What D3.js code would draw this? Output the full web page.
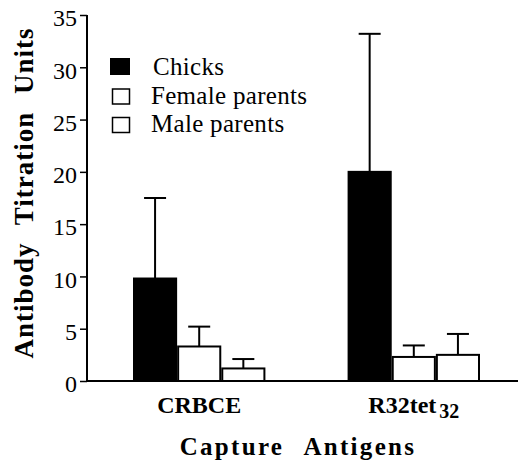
<!DOCTYPE html>
<html>
<head>
<meta charset="utf-8">
<script src="https://cdn.jsdelivr.net/npm/d3@7"></script>
<style>
  body { margin: 0; background: #fff; }
  svg { display: block; }
</style>
</head>
<body>
<svg id="chart" width="518" height="472"></svg>
<script>
const categories = ['CRBCE', 'R32tet32'];
const seriesNames = ['Chicks', 'Female parents', 'Male parents'];
const seriesFill = ['#000', '#fff', '#fff'];
const chicks = [9.8, 20.0];
const femaleParents = [3.3, 2.3];
const maleParents = [1.2, 2.5];
const chicksErr = [17.5, 33.2];
const femaleErr = [5.2, 3.4];
const maleErr = [2.1, 4.5];
const yTicks = [0, 5, 10, 15, 20, 25, 30, 35];

const svg = d3.select('#chart');
const serif = '"Liberation Serif", "Times New Roman", serif';

const y = d3.scaleLinear().domain([0, 35]).range([381, 15]);
const x0 = d3.scaleBand().domain(categories).range([133, 480]).paddingInner(0.383);
const x1 = d3.scaleBand().domain(seriesNames).range([0, x0.bandwidth()]);

// rows of bars
const values = [chicks, femaleParents, maleParents];
const errs = [chicksErr, femaleErr, maleErr];
const rows = [];
categories.forEach((cat, ci) => {
  seriesNames.forEach((s, si) => {
    rows.push({ cat, s, si, v: values[si][ci], e: errs[si][ci] });
  });
});

const bars = svg.append('g');
rows.forEach((d) => {
  const bx = x0(d.cat) + x1(d.s);
  const cx = bx + x1.bandwidth() / 2;
  // error bar
  bars.append('line')
    .attr('x1', cx).attr('x2', cx)
    .attr('y1', y(d.v)).attr('y2', y(d.e))
    .attr('stroke', '#000').attr('stroke-width', 2);
  bars.append('line')
    .attr('x1', cx - 11).attr('x2', cx + 11)
    .attr('y1', y(d.e)).attr('y2', y(d.e))
    .attr('stroke', '#000').attr('stroke-width', 2);
  bars.append('rect')
    .attr('x', bx + 1)
    .attr('y', y(d.v))
    .attr('width', x1.bandwidth() - 2)
    .attr('height', y(0) - y(d.v))
    .attr('fill', seriesFill[d.si])
    .attr('stroke', '#000')
    .attr('stroke-width', 2);
});

// y axis
const yAxis = d3.axisLeft(y).tickValues(yTicks).tickSize(7).tickPadding(3);
const gy = svg.append('g')
  .attr('transform', 'translate(87,0)')
  .call(yAxis)
  .attr('font-family', serif)
  .attr('font-size', 24);
gy.select('.domain').attr('d', `M0,${y(35)}V${y(0)}`).attr('stroke-width', 2);
gy.selectAll('.tick line').attr('stroke-width', 1.5);
gy.selectAll('.tick text').attr('fill', '#000').attr('dy', '0.45em');

// baseline
svg.append('line')
  .attr('x1', 87).attr('x2', 518)
  .attr('y1', y(0)).attr('y2', y(0))
  .attr('stroke', '#000').attr('stroke-width', 2);

// x category labels
categories.forEach((cat) => {
  const t = svg.append('text')
    .attr('x', x0(cat) + x0.bandwidth() / 2)
    .attr('y', 413)
    .attr('text-anchor', 'middle')
    .attr('font-family', serif)
    .attr('font-weight', 'bold')
    .attr('font-size', 24);
  if (cat === 'R32tet32') {
    t.append('tspan').text('R32tet');
    t.append('tspan').attr('dx', 3).attr('dy', 5).attr('font-size', 20).text('32');
  } else {
    t.text(cat);
  }
});

// axis titles
svg.append('text')
  .attr('x', 298).attr('y', 455)
  .attr('text-anchor', 'middle')
  .attr('font-family', serif)
  .attr('font-weight', 'bold')
  .attr('font-size', 25)
  .attr('letter-spacing', 2.3)
  .attr('word-spacing', 12)
  .text('Capture Antigens');

svg.append('text')
  .attr('transform', 'translate(33,193) rotate(-90)')
  .attr('text-anchor', 'middle')
  .attr('font-family', serif)
  .attr('font-weight', 'bold')
  .attr('font-size', 27)
  .attr('letter-spacing', 1)
  .attr('word-spacing', 10)
  .text('Antibody Titration Units');

// legend
const legend = svg.append('g');
seriesNames.forEach((s, i) => {
  const ly = 75 + i * 28.5;
  if (i === 0) {
    legend.append('rect')
      .attr('x', 110).attr('y', ly - 17).attr('width', 20).attr('height', 17)
      .attr('fill', '#000');
  } else {
    legend.append('rect')
      .attr('x', 112.5).attr('y', ly - 14.5).attr('width', 17).attr('height', 15)
      .attr('fill', '#fff').attr('stroke', '#000').attr('stroke-width', 1.5);
  }
  legend.append('text')
    .attr('x', i === 0 ? 153 : 151)
    .attr('y', ly)
    .attr('font-family', serif)
    .attr('font-size', 25)
    .attr('letter-spacing', 0.3)
    .text(s);
});
</script>
</body>
</html>
